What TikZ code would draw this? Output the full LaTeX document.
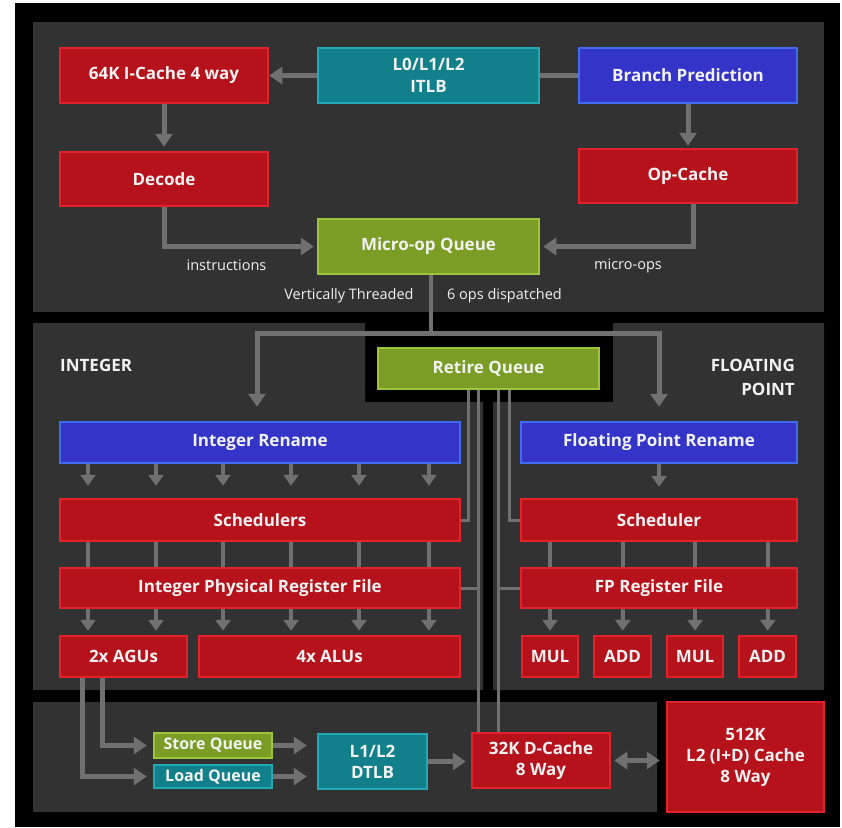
\documentclass[tikz,border=0pt]{standalone}
\usepackage{fontspec}
\setmainfont{Open Sans}
\usetikzlibrary{arrows.meta}
\definecolor{redf}{HTML}{B5121B}
\definecolor{redd}{HTML}{E3232B}
\definecolor{bluef}{HTML}{3434C8}
\definecolor{blued}{HTML}{3F6CF0}
\definecolor{tealf}{HTML}{12808A}
\definecolor{teald}{HTML}{23A9B6}
\definecolor{greenf}{HTML}{7B9D26}
\definecolor{greend}{HTML}{9DC53C}
\definecolor{panel}{HTML}{323232}
\definecolor{arrowc}{HTML}{707070}
\definecolor{txt}{HTML}{F2F2F2}
\tikzset{
  box/.style={line width=2.5pt, text=txt, align=center, inner sep=0pt,
    font=\bfseries\fontsize{17}{22}\selectfont},
  redb/.style={box, fill=redf, draw=redd},
  blueb/.style={box, fill=bluef, draw=blued},
  tealb/.style={box, fill=tealf, draw=teald},
  greenb/.style={box, fill=greenf, draw=greend},
  lbl/.style={text=txt, inner sep=0pt, font=\fontsize{14.5}{17}\selectfont},
  sect/.style={text=txt, inner sep=0pt, align=right, font=\bfseries\fontsize{17}{24}\selectfont},
  arr/.style={draw=arrowc, line width=5pt, -{Triangle[width=17pt,length=13pt]}},
  arrs/.style={draw=arrowc, line width=4pt, -{Triangle[width=15pt,length=11pt]}},
  darr/.style={draw=arrowc, line width=5pt, {Triangle[width=17pt,length=13pt]}-{Triangle[width=17pt,length=13pt]}},
  ln/.style={draw=arrowc, line width=4pt},
  rl/.style={draw=arrowc, line width=3pt},
}
\begin{document}
\begin{tikzpicture}[x=1pt,y=-1pt]
\useasboundingbox (0,0) rectangle (842,827);
\fill[white] (0,0) rectangle (842,827);
\fill[black] (15,3) rectangle (840,827);
\fill[panel] (33,22) rectangle (824,312);
\fill[panel] (33,323) -- (365,323) -- (365,402) -- (483,402) -- (483,690) -- (33,690) -- cycle;
\fill[panel] (493,402) -- (613,402) -- (613,323) -- (824,323) -- (824,690) -- (493,690) -- cycle;
\fill[panel] (33,702) rectangle (657,812);

% front end
\node[redb, minimum width=208pt, minimum height=55pt] (icache) at (164,75.5) {64K I-Cache 4 way};
\node[tealb, minimum width=221pt, minimum height=55pt] (itlb) at (428.5,75.5) {L0/L1/L2\\ITLB};
\node[blueb, minimum width=218pt, minimum height=55pt] (bp) at (688,75.5) {Branch Prediction};
\node[redb, minimum width=208pt, minimum height=54pt] (decode) at (164,179) {Decode};
\node[redb, minimum width=218pt, minimum height=54pt] (opcache) at (688,176) {Op-Cache};
\node[greenb, minimum width=221pt, minimum height=55pt] (uopq) at (428.5,246.5) {Micro-op Queue};
\node[lbl] (linstr) at (226.5,265.5) {instructions};
\node[lbl] (luops) at (628,265.5) {micro-ops};
\node[lbl] (lvt) at (349,296) {Vertically Threaded};
\node[lbl] (lops) at (504.5,296) {6 ops dispatched};

% middle
\node[sect, anchor=west] (lint) at (60,365) {INTEGER};
\node[sect, anchor=east] (lfp) at (795,377) {FLOATING\\POINT};
\node[greenb, minimum width=221pt, minimum height=41pt] (retire) at (488.5,368.5) {Retire Queue};
\node[blueb, minimum width=400pt, minimum height=41pt] (irename) at (260,442.5) {Integer Rename};
\node[blueb, minimum width=276pt, minimum height=41pt] (fprename) at (659,442.5) {Floating Point Rename};
\node[redb, minimum width=400pt, minimum height=42pt] (sched) at (260,520) {Schedulers};
\node[redb, minimum width=400pt, minimum height=40pt] (prf) at (260,588) {Integer Physical Register File};
\node[redb, minimum width=127pt, minimum height=41pt] (agu) at (123.5,656.5) {2x AGUs};
\node[redb, minimum width=261pt, minimum height=41pt] (alu) at (329.5,656.5) {4x ALUs};
\node[redb, minimum width=276pt, minimum height=42pt] (fpsched) at (659,520) {Scheduler};
\node[redb, minimum width=276pt, minimum height=40pt] (fprf) at (659,588) {FP Register File};
\node[redb, minimum width=56pt, minimum height=41pt] (mul1) at (550,656.5) {MUL};
\node[redb, minimum width=57pt, minimum height=41pt] (add1) at (622.5,656.5) {ADD};
\node[redb, minimum width=56pt, minimum height=41pt] (mul2) at (695,656.5) {MUL};
\node[redb, minimum width=57pt, minimum height=41pt] (add2) at (767.5,656.5) {ADD};

% bottom
\node[greenb, minimum width=118pt, minimum height=25pt, font=\bfseries\fontsize{16}{20}\selectfont] (storeq) at (213,745.5) {Store Queue};
\node[tealb, minimum width=118pt, minimum height=23pt, font=\bfseries\fontsize{16}{20}\selectfont] (loadq) at (213,776.5) {Load Queue};
\node[tealb, minimum width=109pt, minimum height=55pt, font=\bfseries\fontsize{17}{21}\selectfont] (dtlb) at (372.5,761.5) {L1/L2\\DTLB};
\node[redb, minimum width=138pt, minimum height=55pt, font=\bfseries\fontsize{17}{21}\selectfont] (dcache) at (541,760.5) {32K D-Cache\\8 Way};
\node[redb, minimum width=157pt, minimum height=110pt, font=\bfseries\fontsize{17}{21}\selectfont] (l2) at (745.5,757) {512K\\L2 (I+D) Cache\\8 Way};

% front-end connectors
\draw[arr] (itlb) -- (icache);
\draw[line width=5pt, draw=arrowc] (bp) -- (itlb);
\draw[arr, shorten >=4pt] (icache) -- (decode);
\draw[arr, shorten >=2pt] (bp) -- (opcache);
\draw[arr, shorten >=3pt] (decode.south) |- (uopq.west);
\draw[arr, shorten >=3pt] ([xshift=5pt]opcache.south) |- (uopq.east);

% dispatch
\coordinate (split) at (431,333);
\draw[ln] ([xshift=2.5pt]uopq.south) -- (split);
\draw[arr, shorten >=14pt] (split) -| ([xshift=-3pt]irename.north);
\draw[arr, shorten >=14pt] (split) -| (fprename.north);

% integer pipe
\foreach \x in {88,156,223,291,359,429}{
  \draw[arrs, shorten >=12pt] (irename.south -| \x,0) -- (sched.north -| \x,0);
  \draw[ln] (sched.south -| \x,0) -- (prf.north -| \x,0);
}
\foreach \x in {88,156}{
  \draw[arrs, shorten >=4pt] (prf.south -| \x,0) -- (agu.north -| \x,0);
}
\foreach \x in {223,291,359,429}{
  \draw[arrs, shorten >=4pt] (prf.south -| \x,0) -- (alu.north -| \x,0);
}

% fp pipe
\draw[arrs, shorten >=11pt] (fprename.south) -- (fpsched.north);
\foreach \x/\u in {550/mul1,623/add1,695/mul2,768/add2}{
  \draw[ln] (fpsched.south -| \x,0) -- (fprf.north -| \x,0);
  \draw[arrs, shorten >=4pt] (fprf.south -| \x,0) -- (\u.north);
}

% retire lines
\draw[rl] (retire.south -| 468,0) |- (sched.east);
\draw[rl] (retire.south -| 509,0) |- (fpsched.west);
\draw[rl] (retire.south -| 478,0) -- (dcache.north -| 478,0);
\draw[rl] (retire.south -| 498,0) -- (dcache.north -| 498,0);
\draw[rl] (prf.east) -- (prf.east -| 478,0);
\draw[rl] (fprf.west) -- (fprf.west -| 498,0);

% load/store
\draw[arr, shorten >=6pt] (agu.south -| 102,0) |- (storeq.west);
\draw[arr, shorten >=6pt] (agu.south -| 82,0) |- (loadq.west);
\draw[arr, shorten >=10pt] (storeq.east) -- (storeq.east -| dtlb.west);
\draw[arr, shorten >=10pt] (loadq.east) -- (loadq.east -| dtlb.west);
\draw[arr, shorten >=5pt] (dtlb.east) -- (dtlb.east -| dcache.west);
\draw[darr, shorten <=3pt, shorten >=6pt] (dcache.east) -- (dcache.east -| l2.west);
\end{tikzpicture}
\end{document}
